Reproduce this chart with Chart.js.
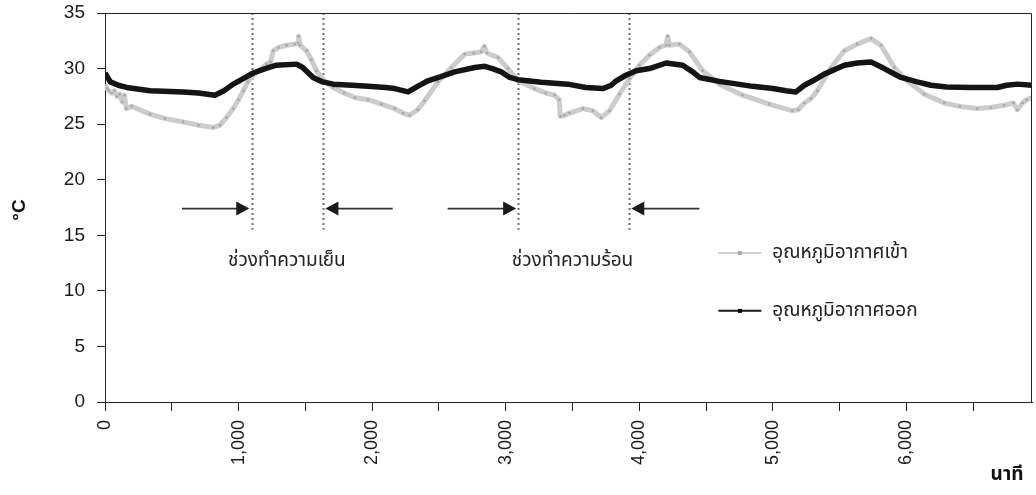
<!DOCTYPE html>
<html>
<head>
<meta charset="utf-8">
<script src="https://cdn.jsdelivr.net/npm/chart.js@4.4.0/dist/chart.umd.min.js"></script>
<style>
  html, body { margin: 0; padding: 0; background: #fff; }
  #wrap { width: 1036px; height: 495px; position: relative; }
</style>
</head>
<body>
<div id="wrap"><canvas id="myChart"></canvas></div>
<script>
//Inlet air temperature (grey) - minutes and degrees
const inletMinutes = [0, 15, 30, 50, 70, 90, 110, 130, 145, 160, 200, 337, 450, 585, 700, 810, 860, 910, 960, 1000, 1035, 1070, 1110, 1160, 1209, 1240, 1259, 1300, 1359, 1420, 1445, 1450, 1460, 1508, 1545, 1583, 1633, 1708, 1790, 1870, 1969, 2070, 2169, 2230, 2281, 2340, 2393, 2493, 2593, 2693, 2760, 2817, 2840, 2860, 2942, 3017, 3092, 3216, 3300, 3366, 3400, 3409, 3440, 3478, 3578, 3652, 3715, 3777, 3852, 3927, 4001, 4076, 4151, 4200, 4213, 4225, 4300, 4375, 4475, 4600, 4773, 4974, 5146, 5190, 5236, 5285, 5333, 5435, 5535, 5632, 5734, 5809, 5909, 6006, 6133, 6283, 6400, 6530, 6631, 6731, 6800, 6830, 6870, 6900, 6940];
const inletTemp = [28.5, 28.2, 28.0, 27.8, 28.0, 27.5, 27.7, 27.0, 27.6, 26.4, 26.6, 25.9, 25.5, 25.2, 24.9, 24.7, 24.9, 25.6, 26.4, 27.2, 28.0, 28.8, 29.4, 29.9, 30.4, 30.6, 31.6, 31.9, 32.1, 32.2, 32.3, 32.9, 32.1, 31.6, 30.8, 29.8, 29.0, 28.3, 27.8, 27.4, 27.2, 26.8, 26.4, 26.0, 25.8, 26.3, 27.1, 28.8, 30.1, 31.3, 31.4, 31.5, 32.0, 31.4, 31.0, 30.0, 28.9, 28.2, 27.8, 27.6, 27.2, 25.7, 25.8, 26.0, 26.4, 26.2, 25.6, 26.2, 27.7, 29.1, 30.3, 31.2, 31.9, 32.1, 32.9, 32.1, 32.2, 31.5, 29.8, 28.6, 27.6, 26.8, 26.2, 26.3, 26.9, 27.3, 28.0, 30.1, 31.6, 32.2, 32.7, 32.1, 30.1, 28.9, 27.7, 26.9, 26.6, 26.4, 26.5, 26.7, 26.9, 26.3, 26.9, 27.2, 27.4];

//Outlet air temperature (black)
const outletMinutes = [0, 20, 40, 100, 162, 337, 585, 700, 823, 890, 960, 1035, 1110, 1200, 1284, 1434, 1480, 1558, 1630, 1708, 1850, 1969, 2100, 2169, 2269, 2340, 2418, 2520, 2618, 2768, 2843, 2900, 2967, 3030, 3092, 3266, 3465, 3600, 3727, 3790, 3827, 3900, 3977, 4076, 4201, 4325, 4400, 4450, 4600, 4848, 5000, 5098, 5173, 5236, 5300, 5385, 5535, 5632, 5734, 5834, 5959, 6080, 6183, 6300, 6482, 6680, 6750, 6830, 6940];
const outletTemp = [29.6, 29.2, 28.8, 28.5, 28.3, 28.0, 27.9, 27.8, 27.6, 28.0, 28.6, 29.1, 29.6, 30.0, 30.3, 30.4, 30.1, 29.2, 28.8, 28.6, 28.5, 28.4, 28.3, 28.2, 27.9, 28.4, 28.9, 29.3, 29.7, 30.1, 30.2, 30.0, 29.7, 29.2, 29.0, 28.76, 28.6, 28.3, 28.2, 28.5, 28.9, 29.4, 29.8, 30.0, 30.5, 30.3, 29.7, 29.2, 28.85, 28.4, 28.2, 28.0, 27.9, 28.5, 28.9, 29.5, 30.3, 30.5, 30.6, 30.0, 29.2, 28.8, 28.5, 28.35, 28.3, 28.3, 28.5, 28.6, 28.5];

const seriesNames = ['อุณหภูมิอากาศเข้า', 'อุณหภูมิอากาศออก'];

//Axis settings
const xMax = 6940;
const xTickStep = 500;
const yMax = 35;
const yTickStep = 5;

//Cooling / heating period markers (minutes)
const markerMinutes = [1100, 1630, 3090, 3920];
const markerTop = 35;
const markerBottom = 15.5;
const arrowFrom = [576, 2154, 2565, 4450];
const arrowTo = [1080, 1650, 3078, 3940];
const arrowTemp = 17.4;
const phaseLabels = ['ช่วงทำความเย็น', 'ช่วงทำความร้อน'];
const phaseLabelMinutes = [1361, 3500];
const phaseLabelTemp = 12.7;

//Legend position in data units
const legendLineFrom = 4592;
const legendLineTo = 4914;
const legendTextAt = 4996;
const legendTemps = [13.4, 8.2];

const FONT = '"Liberation Sans", Arial, "Noto Sans Thai", sans-serif';

//Turns two arrays into {x, y} points
function toPoints(xs, ys) {
    return xs.map(function(x, i) { return { x: x, y: ys[i] }; });
}

//Draws the dotted lines, arrows, labels, legend and the box
const overlay = {
    id: 'overlay',
    beforeDatasetsDraw(chart) {
        const ctx = chart.ctx;
        const xs = chart.scales.x, ys = chart.scales.y;
        ctx.save();
        ctx.strokeStyle = '#6e6e6e';
        ctx.lineWidth = 2;
        ctx.setLineDash([2, 3]);
        markerMinutes.forEach(function(m) {
            const px = Math.round(xs.getPixelForValue(m)) + 0.5;
            ctx.beginPath();
            ctx.moveTo(px, ys.getPixelForValue(markerTop));
            ctx.lineTo(px, ys.getPixelForValue(markerBottom));
            ctx.stroke();
        });
        ctx.restore();
    },
    afterDatasetsDraw(chart) {
        const ctx = chart.ctx;
        const xs = chart.scales.x, ys = chart.scales.y;
        const a = chart.chartArea;
        ctx.save();

        //top and right edges of the box
        ctx.strokeStyle = '#222';
        ctx.lineWidth = 1;
        ctx.beginPath();
        ctx.moveTo(a.left, a.top + 0.5);
        ctx.lineTo(a.right - 0.5, a.top + 0.5);
        ctx.lineTo(a.right - 0.5, a.bottom);
        ctx.stroke();

        //arrows
        const ay = ys.getPixelForValue(arrowTemp);
        for (let i = 0; i < arrowFrom.length; i++) {
            const x0 = xs.getPixelForValue(arrowFrom[i]);
            const x1 = xs.getPixelForValue(arrowTo[i]);
            const dir = x1 > x0 ? 1 : -1;
            ctx.strokeStyle = '#333';
            ctx.lineWidth = 1.8;
            ctx.beginPath();
            ctx.moveTo(x0, ay);
            ctx.lineTo(x1 - dir * 12, ay);
            ctx.stroke();
            ctx.fillStyle = '#1a1a1a';
            ctx.beginPath();
            ctx.moveTo(x1, ay);
            ctx.lineTo(x1 - dir * 13, ay - 7);
            ctx.lineTo(x1 - dir * 13, ay + 7);
            ctx.closePath();
            ctx.fill();
        }

        //period labels
        ctx.fillStyle = '#222';
        ctx.font = '19px ' + FONT;
        ctx.textAlign = 'center';
        ctx.textBaseline = 'middle';
        phaseLabels.forEach(function(t, i) {
            ctx.fillText(t, xs.getPixelForValue(phaseLabelMinutes[i]), ys.getPixelForValue(phaseLabelTemp));
        });

        //legend
        const lx0 = xs.getPixelForValue(legendLineFrom);
        const lx1 = xs.getPixelForValue(legendLineTo);
        const colors = ['#cfcfcf', '#1a1a1a'];
        const marks = ['#a8a8a8', '#000'];
        ctx.textAlign = 'left';
        legendTemps.forEach(function(t, i) {
            const py = ys.getPixelForValue(t);
            ctx.strokeStyle = colors[i];
            ctx.lineWidth = 2;
            ctx.beginPath();
            ctx.moveTo(lx0, py);
            ctx.lineTo(lx1, py);
            ctx.stroke();
            ctx.fillStyle = marks[i];
            ctx.fillRect((lx0 + lx1) / 2 - 2, py - 2, 4, 4);
            ctx.fillStyle = '#222';
            ctx.fillText(seriesNames[i], xs.getPixelForValue(legendTextAt), py);
        });

        //axis titles
        ctx.font = 'bold 19px ' + FONT;
        ctx.fillStyle = '#111';
        ctx.textAlign = 'center';
        ctx.fillText('นาที', 1007, 475);
        ctx.translate(20, 210);
        ctx.rotate(-Math.PI / 2);
        ctx.fillText('°C', 0, 0);
        ctx.restore();
    }
};

const ctx = document.getElementById('myChart').getContext('2d');

const myChart = new Chart(ctx, {
    type: 'line',
    data: {
        datasets: [{
            label: seriesNames[0],
            data: toPoints(inletMinutes, inletTemp),
            borderColor: '#cccccc',
            borderWidth: 5,
            borderJoinStyle: 'round',
            pointRadius: 1.3,
            pointBackgroundColor: '#a6a6a6',
            pointBorderWidth: 0,
            tension: 0,
            order: 1
        }, {
            label: seriesNames[1],
            data: toPoints(outletMinutes, outletTemp),
            borderColor: '#141414',
            borderWidth: 5.5,
            borderJoinStyle: 'round',
            pointRadius: 0,
            tension: 0,
            order: 0
        }]
    },
    options: {
        responsive: true,
        maintainAspectRatio: false,
        animation: false,
        layout: { padding: { top: 13, right: 1, left: 0, bottom: 0 } },
        plugins: {
            legend: { display: false },
            tooltip: { enabled: false }
        },
        scales: {
            x: {
                type: 'linear',
                min: 0,
                max: xMax,
                afterFit: function(s) {
                    s.height = 93;
                    s.paddingLeft = 0;
                    s.paddingRight = 0;
                },
                afterBuildTicks: function(s) {
                    const t = [];
                    for (let v = 0; v <= xMax; v += xTickStep) t.push({ value: v });
                    s.ticks = t;
                },
                grid: { drawOnChartArea: false, drawTicks: true, tickLength: 9, color: '#222' },
                border: { color: '#222', width: 1 },
                ticks: {
                    autoSkip: false,
                    maxRotation: 90,
                    minRotation: 90,
                    padding: 9,
                    color: '#1a1a1a',
                    font: { family: FONT, size: 18 },
                    callback: function(v) {
                        return v % 1000 === 0 ? v.toLocaleString('en-US') : '';
                    }
                }
            },
            y: {
                min: 0,
                max: yMax,
                afterFit: function(s) {
                    s.width = 105;
                    s.paddingTop = 0;
                    s.paddingBottom = 0;
                },
                grid: { drawOnChartArea: false, drawTicks: true, tickLength: 8, color: '#222' },
                border: { color: '#222', width: 1 },
                ticks: {
                    stepSize: yTickStep,
                    padding: 12,
                    color: '#1a1a1a',
                    font: { family: FONT, size: 19 }
                }
            }
        }
    },
    plugins: [overlay]
});
</script>
</body>
</html>
